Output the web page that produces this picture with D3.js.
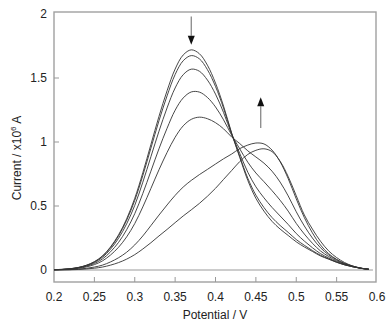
<!DOCTYPE html>
<html>
<head>
<meta charset="utf-8">
<script src="https://cdn.jsdelivr.net/npm/d3@7"></script>
<style>
  body { margin: 0; background: #fff; }
  text { font-family: 'Liberation Sans', Arial, sans-serif; font-size: 12px; fill: #222; }
</style>
</head>
<body>
<div id="chart"></div>
<script>
(function() {
'use strict';

// potential (V) and current (x10^6 A)
const potentials = [0.20, 0.21, 0.22, 0.23, 0.24, 0.25, 0.26, 0.27, 0.28, 0.29,
  0.30, 0.31, 0.32, 0.33, 0.34, 0.35, 0.36, 0.37, 0.38, 0.39,
  0.40, 0.41, 0.42, 0.43, 0.44, 0.45, 0.46, 0.47, 0.48, 0.49,
  0.50, 0.51, 0.52, 0.53, 0.54, 0.55, 0.56, 0.57, 0.58, 0.59];

const scan1 = [0.003, 0.005, 0.010, 0.020, 0.037, 0.065, 0.11, 0.18, 0.275, 0.40,
  0.56, 0.76, 0.98, 1.20, 1.40, 1.57, 1.68, 1.72, 1.69, 1.60,
  1.46, 1.28, 1.07, 0.88, 0.70, 0.56, 0.46, 0.38, 0.32, 0.27,
  0.22, 0.18, 0.145, 0.11, 0.085, 0.06, 0.04, 0.025, 0.013, 0.005];
const scan2 = [0.003, 0.005, 0.010, 0.019, 0.036, 0.063, 0.107, 0.175, 0.267, 0.389,
  0.544, 0.738, 0.952, 1.166, 1.36, 1.527, 1.635, 1.675, 1.65, 1.565,
  1.434, 1.264, 1.066, 0.888, 0.717, 0.585, 0.488, 0.41, 0.348, 0.294,
  0.238, 0.193, 0.152, 0.115, 0.087, 0.061, 0.04, 0.025, 0.013, 0.005];
const scan3 = [0.003, 0.004, 0.009, 0.018, 0.033, 0.059, 0.099, 0.163, 0.248, 0.361,
  0.505, 0.686, 0.885, 1.084, 1.266, 1.422, 1.526, 1.569, 1.553, 1.484,
  1.374, 1.23, 1.061, 0.911, 0.764, 0.65, 0.564, 0.489, 0.422, 0.356,
  0.285, 0.226, 0.174, 0.128, 0.094, 0.065, 0.043, 0.026, 0.014, 0.005];
const scan4 = [0.002, 0.004, 0.008, 0.016, 0.029, 0.051, 0.086, 0.142, 0.216, 0.315,
  0.44, 0.598, 0.772, 0.947, 1.107, 1.248, 1.344, 1.391, 1.39, 1.348,
  1.274, 1.173, 1.054, 0.947, 0.842, 0.758, 0.69, 0.62, 0.545, 0.46,
  0.364, 0.281, 0.209, 0.149, 0.106, 0.072, 0.046, 0.028, 0.014, 0.006];
const scan5 = [0.002, 0.003, 0.006, 0.013, 0.024, 0.042, 0.071, 0.117, 0.178, 0.259,
  0.363, 0.493, 0.637, 0.783, 0.918, 1.037, 1.126, 1.177, 1.194, 1.182,
  1.151, 1.103, 1.039, 0.988, 0.931, 0.883, 0.835, 0.772, 0.687, 0.579,
  0.455, 0.344, 0.25, 0.174, 0.119, 0.08, 0.05, 0.03, 0.014, 0.006];
const scan6 = [0.001, 0.002, 0.003, 0.007, 0.013, 0.023, 0.038, 0.063, 0.096, 0.139,
  0.196, 0.266, 0.347, 0.429, 0.508, 0.583, 0.648, 0.70, 0.745, 0.786,
  0.828, 0.869, 0.906, 0.948, 0.976, 0.992, 0.985, 0.937, 0.846, 0.714,
  0.556, 0.41, 0.29, 0.195, 0.128, 0.083, 0.051, 0.03, 0.015, 0.006];
const scan7 = [0.001, 0.001, 0.002, 0.004, 0.008, 0.014, 0.023, 0.038, 0.058, 0.085,
  0.12, 0.164, 0.213, 0.266, 0.317, 0.37, 0.422, 0.47, 0.52, 0.576,
  0.638, 0.708, 0.777, 0.847, 0.903, 0.935, 0.947, 0.925, 0.85, 0.73,
  0.58, 0.43, 0.32, 0.225, 0.15, 0.097, 0.058, 0.031, 0.014, 0.005];

const scans = [scan1, scan2, scan3, scan4, scan5, scan6, scan7];

const baselinePotentials = [0.2, 0.595];
const baselineCurrent = [0, 0];

const xTicks = [0.2, 0.25, 0.3, 0.35, 0.4, 0.45, 0.5, 0.55, 0.6];
const xTickLabels = ['0.2', '0.25', '0.3', '0.35', '0.4', '0.45', '0.5', '0.55', '0.6'];
const yTicks = [0, 0.5, 1, 1.5, 2];
const yTickLabels = ['0', '0.5', '1', '1.5', '2'];

// arrows: potential, start current, tip current
const arrowX = [0.37, 0.456];
const arrowFrom = [1.98, 1.11];
const arrowTo = [1.76, 1.35];

const width = 387;
const height = 323;
const frame = {left: 54, right: 376, top: 12, bottom: 282};
const tickLen = 5;

const svg = d3.select('#chart')
  .append('svg')
  .attr('width', width)
  .attr('height', height);

const x = d3.scaleLinear()
  .domain([0.2, 0.6])
  .range([54, 377]);

const y = d3.scaleLinear()
  .domain([0, 2])
  .range([270, 14]);

// frame
svg.append('rect')
  .attr('x', frame.left)
  .attr('y', frame.top)
  .attr('width', frame.right - frame.left)
  .attr('height', frame.bottom - frame.top)
  .attr('fill', 'none')
  .attr('stroke', '#a0a0a0')
  .attr('stroke-width', 1.4);

// inner ticks
svg.selectAll('.xtick')
  .data(xTicks.slice(1, -1))
  .enter()
  .append('line')
  .attr('class', 'xtick')
  .attr('x1', d => x(d))
  .attr('x2', d => x(d))
  .attr('y1', frame.bottom)
  .attr('y2', frame.bottom - tickLen)
  .attr('stroke', '#999');

svg.selectAll('.ytick')
  .data(yTicks.slice(0, -1))
  .enter()
  .append('line')
  .attr('class', 'ytick')
  .attr('x1', frame.left)
  .attr('x2', frame.left + tickLen)
  .attr('y1', d => y(d))
  .attr('y2', d => y(d))
  .attr('stroke', '#999');

svg.selectAll('.xlabel')
  .data(xTicks)
  .enter()
  .append('text')
  .attr('class', 'xlabel')
  .attr('x', d => x(d))
  .attr('y', 301)
  .attr('text-anchor', 'middle')
  .text((d, i) => xTickLabels[i]);

svg.selectAll('.ylabel')
  .data(yTicks)
  .enter()
  .append('text')
  .attr('class', 'ylabel')
  .attr('x', 47)
  .attr('y', d => y(d) + 4)
  .attr('text-anchor', 'end')
  .text((d, i) => yTickLabels[i]);

svg.append('text')
  .attr('x', (frame.left + frame.right) / 2)
  .attr('y', 319)
  .attr('text-anchor', 'middle')
  .text('Potential / V');

const yTitle = svg.append('text')
  .attr('transform', 'translate(21,' + 158 + ') rotate(-90)')
  .attr('text-anchor', 'middle');
yTitle.append('tspan').text('Current / x10');
yTitle.append('tspan').attr('dy', -5).style('font-size', '8px').text('6');
yTitle.append('tspan').attr('dy', 5).text(' A');

// zero line
const zeroLine = d3.line()
  .x((d, i) => x(baselinePotentials[i]))
  .y(d => y(d));

svg.append('path')
  .attr('d', zeroLine(baselineCurrent))
  .attr('fill', 'none')
  .attr('stroke', '#999')
  .attr('stroke-width', 1);

const line = d3.line()
  .x((d, i) => x(potentials[i]))
  .y(d => y(d))
  .curve(d3.curveCatmullRom.alpha(0.5));

svg.selectAll('.scan')
  .data(scans)
  .enter()
  .append('path')
  .attr('class', 'scan')
  .attr('d', line)
  .attr('fill', 'none')
  .attr('stroke', '#333')
  .attr('stroke-width', 0.9);

// arrows
const headLen = 9;
const headHalf = 3.5;
arrowX.forEach((ax, i) => {
  const px = x(ax);
  const y0 = y(arrowFrom[i]);
  const tip = y(arrowTo[i]);
  const dir = tip > y0 ? 1 : -1;
  svg.append('line')
    .attr('x1', px)
    .attr('x2', px)
    .attr('y1', y0)
    .attr('y2', tip - dir * headLen)
    .attr('stroke', '#888')
    .attr('stroke-width', 1.3);
  svg.append('path')
    .attr('d', 'M' + px + ',' + tip +
      'L' + (px - headHalf) + ',' + (tip - dir * headLen) +
      'L' + (px + headHalf) + ',' + (tip - dir * headLen) + 'Z')
    .attr('fill', '#111');
});

})();
</script>
</body>
</html>
